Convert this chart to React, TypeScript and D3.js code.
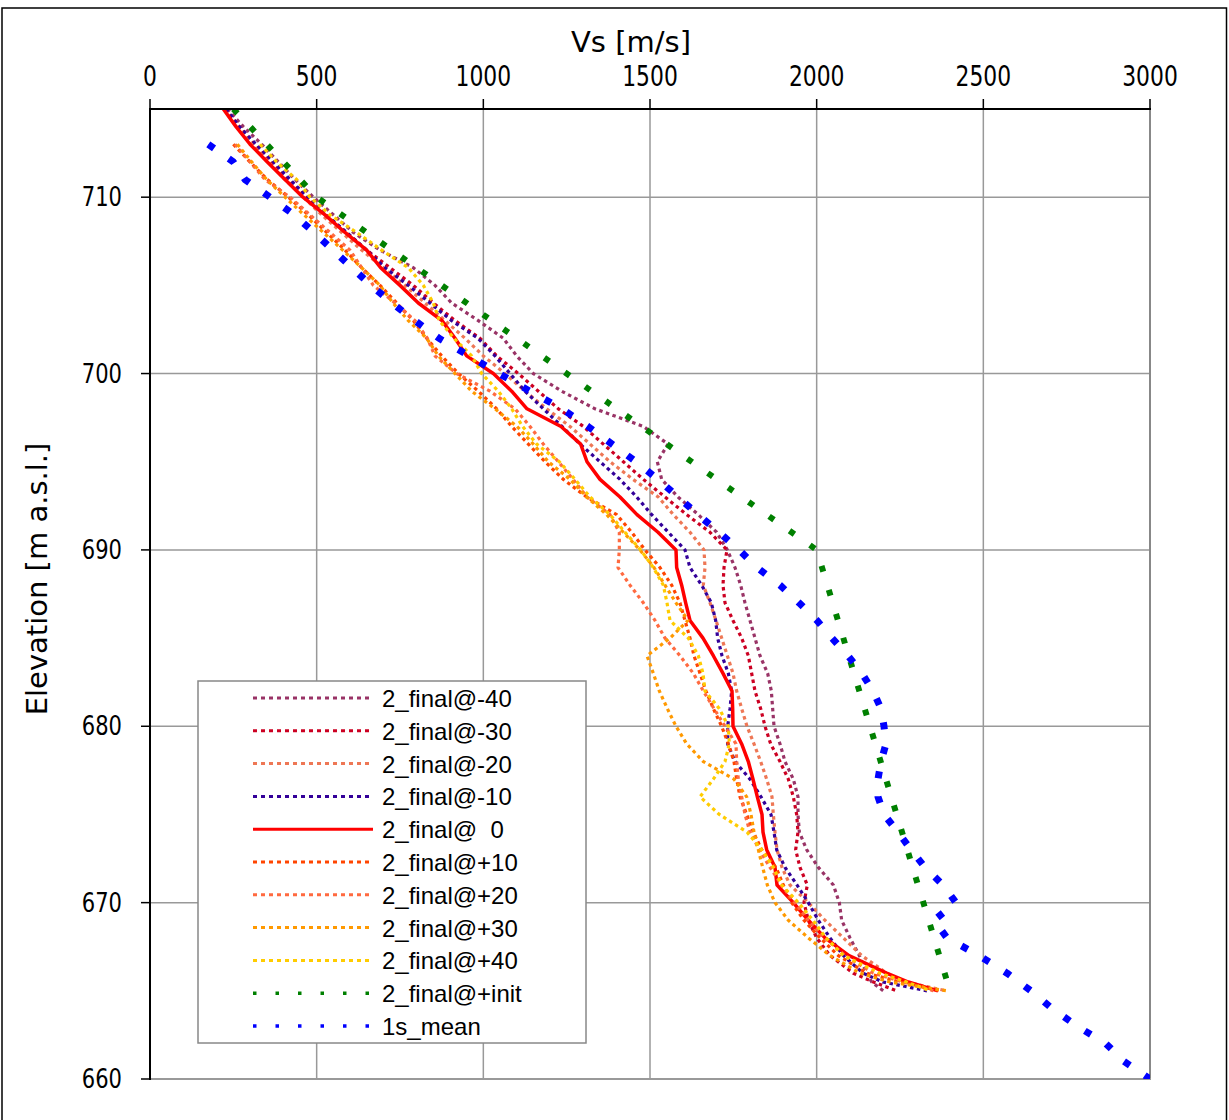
import React from 'react';
import * as d3 from 'd3';

// Elevation grid [m a.s.l.] shared by the 2_final profiles
const ELEV = [715, 714, 713, 712, 711, 710, 709, 708, 707, 706, 705, 704, 703, 702, 701, 700,
  699, 698, 697, 696, 695, 694, 693, 692, 691, 690, 689, 688, 687, 686, 685, 684, 683, 682, 681, 680,
  679, 678, 677, 676, 675, 674, 673, 672, 671, 670, 669, 668, 667, 666, 665.5, 665];

// Vs [m/s] profiles at each lateral offset
const FINAL_M40 = [232, 280, 335, 385, 435, 490, 550, 610, 690, 790, 855, 905, 985, 1060, 1100, 1150,
  1235, 1335, 1480, 1554, 1522, 1535, 1584, 1645, 1700, 1732, 1755, 1772, 1785, 1800, 1815, 1830, 1853, 1864, 1868, 1872,
  1890, 1905, 1930, 1944, 1944, 1948, 1970, 2005, 2050, 2068, 2075, 2100, 2128, 2150, 2165, 2200];
const FINAL_M30 = [226, 268, 312, 362, 412, 468, 528, 588, 650, 720, 790, 850, 915, 990, 1040, 1105,
  1165, 1225, 1300, 1360, 1420, 1480, 1545, 1610, 1680, 1731, 1722, 1719, 1725, 1749, 1775, 1795, 1805, 1815, 1832, 1845,
  1862, 1890, 1915, 1930, 1940, 1944, 1937, 1950, 1972, 1962, 1975, 2000, 2040, 2110, 2170, 2240];
const FINAL_M20 = [224, 262, 305, 355, 405, 460, 515, 575, 635, 700, 765, 825, 885, 945, 1000, 1065,
  1125, 1190, 1260, 1320, 1380, 1449, 1525, 1570, 1620, 1662, 1665, 1660, 1680, 1698, 1715, 1732, 1749, 1760, 1775, 1791,
  1812, 1832, 1850, 1866, 1870, 1875, 1881, 1896, 1920, 1975, 2025, 2080, 2135, 2210, 2265, 2390];
const FINAL_M10 = [228, 268, 318, 370, 420, 472, 528, 590, 650, 705, 775, 840, 905, 984, 1035, 1080,
  1125, 1180, 1236, 1290, 1350, 1410, 1460, 1505, 1555, 1605, 1620, 1655, 1684, 1697, 1703, 1716, 1735, 1745, 1740, 1733,
  1733, 1755, 1800, 1833, 1863, 1872, 1880, 1905, 1941, 1975, 2005, 2040, 2080, 2139, 2199, 2331];
const FINAL_0 = [220, 258, 300, 352, 405, 459, 525, 585, 650, 692, 750, 805, 876, 915, 950, 1030,
  1085, 1131, 1233, 1292, 1311, 1350, 1410, 1461, 1524, 1578, 1580, 1595, 1607, 1620, 1659, 1690, 1719, 1746, 1748, 1749,
  1775, 1795, 1809, 1822, 1836, 1839, 1850, 1875, 1881, 1930, 1975, 2025, 2097, 2210, 2275, 2364];
const FINAL_P10 = [null, null, 250, 300, 352, 415, 475, 530, 585, 635, 690, 740, 790, 830, 875, 925,
  985, 1040, 1085, 1135, 1185, 1240, 1310, 1400, 1445, 1485, 1530, 1565, 1590, 1605, 1620, 1632, 1650, 1668, 1690, 1715,
  1735, 1752, 1760, 1770, 1790, 1810, 1835, 1878, 1900, 1925, 1962, 2010, 2065, 2150, 2250, 2370];
const FINAL_P20 = [null, null, 255, 300, 345, 420, 480, 540, 600, 635, 670, 735, 795, 832, 855, 920,
  1020, 1095, 1140, 1180, 1225, 1269, 1311, 1380, 1408, 1408, 1404, 1440, 1480, 1515, 1545, 1590, 1630, 1660, 1692, 1725,
  1758, 1760, 1765, 1775, 1785, 1800, 1828, 1860, 1895, 1935, 1975, 2025, 2085, 2170, 2260, 2350];
const FINAL_P30 = [null, null, 262, 305, 350, 405, 462, 520, 578, 635, 690, 729, 775, 830, 865, 915,
  965, 1035, 1101, 1150, 1195, 1260, 1310, 1370, 1420, 1470, 1512, 1545, 1578, 1614, 1560, 1491, 1510, 1528, 1552, 1578,
  1610, 1660, 1752, 1790, 1803, 1812, 1825, 1838, 1852, 1875, 1915, 1975, 2040, 2130, 2220, 2390];
const FINAL_P40 = [null, null, 330, 380, 440, 480, 540, 620, 695, 775, 820, 850, 868, 912, 965, 995,
  1045, 1085, 1118, 1160, 1228, 1275, 1320, 1380, 1425, 1472, 1510, 1540, 1551, 1560, 1615, 1645, 1659, 1665, 1708, 1735,
  1738, 1725, 1690, 1650, 1708, 1791, 1835, 1870, 1895, 1945, 1989, 2028, 2080, 2190, 2270, 2340];

// Initial model
const INIT_ELEV = [715, 710, 690, 665];
const INIT_VS = [250, 500, 2000, 2400];

// 1s mean profile
const MEAN_ELEV = [713, 712, 711, 710, 709, 708, 707, 706, 705, 704, 703, 702, 701, 700,
  699, 698, 697, 696, 695, 694, 693, 692, 691, 690, 689, 688, 687, 686, 685, 684, 683, 682, 681, 680,
  679, 678, 677, 676, 675, 674, 673, 672, 671, 670, 669, 668, 667, 666, 665, 664, 663, 662, 661, 660];
const MEAN_VS = [175, 250, 285, 360, 432, 492, 549, 606, 663, 726, 795, 867, 957, 1047,
  1140, 1236, 1314, 1386, 1458, 1524, 1584, 1644, 1707, 1767, 1821, 1890, 1947, 2001, 2046, 2094, 2136, 2169, 2193, 2202,
  2208, 2193, 2184, 2184, 2202, 2244, 2283, 2325, 2379, 2418, 2352, 2391, 2487, 2571, 2643, 2706, 2781, 2868, 2922, 3000];

const X_TICKS = [0, 500, 1000, 1500, 2000, 2500, 3000];
const Y_TICKS = [660, 670, 680, 690, 700, 710];

type Pt = [number, number | null];

interface Series {
  name: string;
  pts: Pt[];
  color: string;
  width: number;
  dash: string | null;
  legendWidth: number;
  legendDash: string | null;
}

const zip = (e: number[], v: (number | null)[]): Pt[] => e.map((el, i) => [el, v[i]]);

const DOT = '3.5,3.5';

const SERIES: Series[] = [
  { name: '2_final@-40', pts: zip(ELEV, FINAL_M40), color: '#993366', width: 3.2, dash: DOT, legendWidth: 3, legendDash: '4,4' },
  { name: '2_final@-30', pts: zip(ELEV, FINAL_M30), color: '#CC0022', width: 3.2, dash: DOT, legendWidth: 3, legendDash: '4,4' },
  { name: '2_final@-20', pts: zip(ELEV, FINAL_M20), color: '#EE7755', width: 3.2, dash: DOT, legendWidth: 3, legendDash: '4,4' },
  { name: '2_final@-10', pts: zip(ELEV, FINAL_M10), color: '#330099', width: 3.2, dash: DOT, legendWidth: 3, legendDash: '4,4' },
  { name: '2_final@  0', pts: zip(ELEV, FINAL_0), color: '#FF0000', width: 3.5, dash: null, legendWidth: 3, legendDash: null },
  { name: '2_final@+10', pts: zip(ELEV, FINAL_P10), color: '#FF4500', width: 3.2, dash: DOT, legendWidth: 3, legendDash: '4,4' },
  { name: '2_final@+20', pts: zip(ELEV, FINAL_P20), color: '#FF6A40', width: 3.2, dash: DOT, legendWidth: 3, legendDash: '4,4' },
  { name: '2_final@+30', pts: zip(ELEV, FINAL_P30), color: '#FF9900', width: 3.2, dash: DOT, legendWidth: 3, legendDash: '4,4' },
  { name: '2_final@+40', pts: zip(ELEV, FINAL_P40), color: '#FFCC00', width: 3.2, dash: DOT, legendWidth: 3, legendDash: '4,4' },
  { name: '2_final@+init', pts: zip(INIT_ELEV, INIT_VS), color: '#008000', width: 6, dash: '6,19', legendWidth: 3.5, legendDash: '3.5,19' },
  { name: '1s_mean', pts: zip(MEAN_ELEV, MEAN_VS), color: '#0000FF', width: 7, dash: '7,18', legendWidth: 3.5, legendDash: '3.5,19' },
];

const AXIS_FONT = '"DejaVu Sans", Verdana, sans-serif';
const LEGEND_FONT = '"Liberation Sans", Arial, sans-serif';

export default function App() {
  const W = 1229;
  const H = 1120;
  const x = d3.scaleLinear().domain([0, 3000]).range([150, 1150]);
  const y = d3.scaleLinear().domain([660, 715]).range([1079, 109]);
  const [x0, x1] = x.range();
  const [yb, yt] = y.range();

  const line = d3
    .line<Pt>()
    .defined((d) => d[1] != null)
    .x((d) => x(d[1] as number))
    .y((d) => y(d[0]));

  const legX = 198;
  const legY = 681;
  const legW = 388;
  const legH = 362;
  const legRow0 = 698;
  const legStep = 32.8;

  return (
    <svg
      width={W}
      height={H}
      viewBox={`0 0 ${W} ${H}`}
      style={{ position: 'absolute', left: 0, top: 0, background: '#fff' }}
    >
      <defs>
        <clipPath id="plot-clip">
          <rect x={x0} y={yt} width={x1 - x0} height={yb - yt} />
        </clipPath>
      </defs>
      <rect x={0} y={0} width={W} height={H} fill="#fff" />
      <rect x={2} y={8} width={1224.5} height={1140} fill="none" stroke="#000" strokeWidth={1.5} />

      {/* grid */}
      {X_TICKS.filter((t) => t > 0 && t < 3000).map((t) => (
        <line key={'gx' + t} x1={x(t)} x2={x(t)} y1={yt} y2={yb} stroke="#999" strokeWidth={1.5} />
      ))}
      {Y_TICKS.filter((t) => t > 660).map((t) => (
        <line key={'gy' + t} x1={x0} x2={x1} y1={y(t)} y2={y(t)} stroke="#999" strokeWidth={1.5} />
      ))}
      {/* right and bottom frame */}
      <line x1={x1} x2={x1} y1={yt} y2={yb + 1} stroke="#888" strokeWidth={2} />
      <line x1={x0} x2={x1 + 1} y1={yb} y2={yb} stroke="#999" strokeWidth={2} />

      {/* data */}
      <g clipPath="url(#plot-clip)">
        {SERIES.map((s) => (
          <path
            key={s.name}
            d={line(s.pts) || ''}
            fill="none"
            stroke={s.color}
            strokeWidth={s.width}
            strokeDasharray={s.dash || undefined}
            strokeLinejoin="round"
          />
        ))}
      </g>

      {/* axes */}
      <line x1={x0 - 1} x2={x1 + 1} y1={yt} y2={yt} stroke="#000" strokeWidth={2} />
      <line x1={x0} x2={x0} y1={yt} y2={yb + 1} stroke="#000" strokeWidth={2} />
      {X_TICKS.map((t) => (
        <g key={'xt' + t}>
          <line x1={x(t)} x2={x(t)} y1={yt - 10} y2={yt} stroke="#000" strokeWidth={1.5} />
          <text
            transform={`translate(${x(t)},86) scale(0.78,1)`}
            textAnchor="middle"
            fontFamily={AXIS_FONT}
            fontSize={28}
            fill="#000"
          >
            {t}
          </text>
        </g>
      ))}
      {Y_TICKS.map((t) => (
        <g key={'yt' + t}>
          <line x1={x0 - 9} x2={x0} y1={y(t)} y2={y(t)} stroke="#000" strokeWidth={1.5} />
          <text
            transform={`translate(122,${y(t) + 9}) scale(0.78,1)`}
            textAnchor="end"
            fontFamily={AXIS_FONT}
            fontSize={27}
            fill="#000"
          >
            {t}
          </text>
        </g>
      ))}
      <text x={631} y={52} textAnchor="middle" fontFamily={AXIS_FONT} fontSize={29} fill="#000">
        Vs [m/s]
      </text>
      <text
        transform="translate(47,579) rotate(-90)"
        textAnchor="middle"
        fontFamily={AXIS_FONT}
        fontSize={29}
        fill="#000"
      >
        Elevation [m a.s.l.]
      </text>

      {/* legend */}
      <rect x={legX} y={legY} width={legW} height={legH} fill="#fff" stroke="#888" strokeWidth={1.5} />
      {SERIES.map((s, i) => {
        const ly = legRow0 + i * legStep;
        return (
          <g key={'lg' + s.name}>
            <line
              x1={253}
              x2={373}
              y1={ly}
              y2={ly}
              stroke={s.color}
              strokeWidth={s.legendWidth}
              strokeDasharray={s.legendDash || undefined}
            />
            <text
              x={382}
              y={ly + 9}
              fontFamily={LEGEND_FONT}
              fontSize={24}
              fill="#000"
              style={{ whiteSpace: 'pre' }}
            >
              {s.name}
            </text>
          </g>
        );
      })}
    </svg>
  );
}
